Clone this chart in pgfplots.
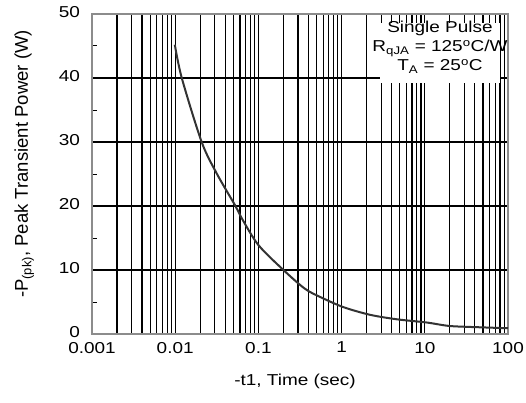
\documentclass[border=0pt]{standalone}
\usepackage{fontspec}
\setmainfont{Liberation Sans}[FakeStretch=1.2]
\newfontfamily\ylfont{Liberation Sans}
\usepackage{pgfplots}
\pgfplotsset{compat=1.18}
\begin{document}
\fontsize{15.8}{19}\selectfont
\begin{tikzpicture}
\begin{axis}[
  at={(0pt,0pt)}, anchor=south west,
  scale only axis, width=416pt, height=320pt,
  xmode=log, xmin=0.001, xmax=100, ymin=0, ymax=50,
  xtick={0.001,0.01,0.1,1,10,100},
  xticklabels={0.001,0.01,0.1,1,10,100},
  ytick={0,10,20,30,40},
  extra y ticks={50}, extra y tick style={grid=none},
  minor ytick={5,15,25,35,45},
  xmajorgrids, xminorgrids, ymajorgrids,
  grid style={black, line width=1.2pt},
  minor grid style={black, line width=1.2pt},
  axis line style={black!45, line width=1.2pt},
  tick align=inside, ytick pos=left, xtick pos=bottom,
  major tick length=0pt, minor tick length=5pt,
  minor tick style={black, line width=1pt},
  /pgf/number format/assume math mode=true,
  xticklabel style={yshift=-2.5pt},
  yticklabel style={xshift=-6.5pt, yshift=1.5pt},
  xlabel={-t1, Time (sec)},
  ylabel={-P\textsubscript{(pk)}, Peak Transient Power (W)},
  xlabel style={at={(axis description cs:0.5,0)}, anchor=center, yshift=-47pt, xshift=-5pt},
  ylabel style={at={(axis description cs:-0.163,0.531)}, anchor=center, font=\ylfont\fontsize{18.5}{22}\selectfont},
]
\addplot[black!80, line width=2pt, smooth] coordinates {
  (0.0099,45.2) (0.012,40) (0.0208,30) (0.0315,25.1) (0.053,20)
  (0.063,18.1) (0.1,13.9) (0.2,10) (0.36,7.1) (0.55,5.8)
  (1.05,4.2) (2.2,3.0) (4.6,2.3) (10.5,1.8) (20,1.25) (46,1.05) (100,0.9)
};
\fill[white] (rel axis cs:0.692,0.784) rectangle (rel axis cs:0.981,0.972);
\node[align=center, inner sep=0pt, font=\fontsize{15.8}{19}\selectfont]
  at (rel axis cs:0.8365,0.897)
  {Single Pulse\\R\textsubscript{qJA} = 125\textsuperscript{o}C/W\\T\textsubscript{A} = 25\textsuperscript{o}C};
\end{axis}
\pgfresetboundingbox
\path[use as bounding box] (-92pt,-68pt) rectangle (434pt,334pt);
\end{tikzpicture}
\end{document}
